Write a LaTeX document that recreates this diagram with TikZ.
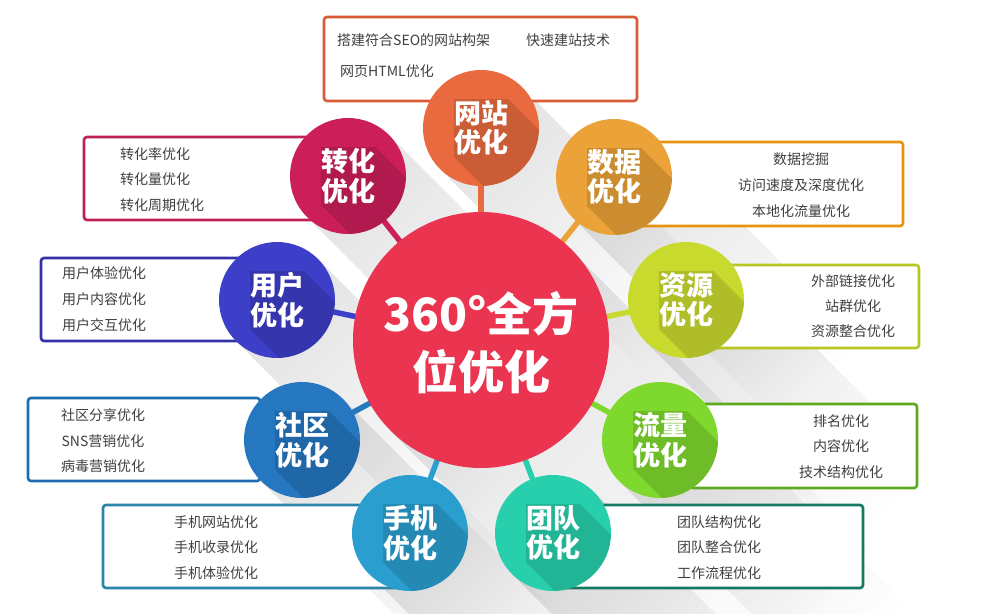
\documentclass[tikz,border=0pt]{standalone}
\usepackage{fontspec}
\setmainfont{Noto Sans CJK SC}
\usetikzlibrary{fadings}
\pgfdeclarelayer{bgL}\pgfdeclarelayer{shadowL}\pgfdeclarelayer{boxL}\pgfdeclarelayer{lineL}
\pgfsetlayers{bgL,shadowL,boxL,lineL,main}
\definecolor{cCenter}{HTML}{EA3450}
\definecolor{cWZ}{HTML}{E96A3F}\definecolor{bWZ}{HTML}{D95C36}
\definecolor{cZH}{HTML}{CC1F5A}\definecolor{bZH}{HTML}{BE2254}
\definecolor{cSJ}{HTML}{EBA238}\definecolor{bSJ}{HTML}{E8920E}
\definecolor{cYH}{HTML}{3E3FC8}\definecolor{bYH}{HTML}{3530A8}
\definecolor{cZY}{HTML}{C9DA2E}\definecolor{bZY}{HTML}{B5C720}
\definecolor{cLL}{HTML}{7ED82E}\definecolor{bLL}{HTML}{5EA820}
\definecolor{cTD}{HTML}{27CFAC}\definecolor{bTD}{HTML}{137A60}
\definecolor{cSHJ}{HTML}{2A9FCF}\definecolor{bSHJ}{HTML}{2A85A8}
\definecolor{cSQ}{HTML}{2577C0}\definecolor{bSQ}{HTML}{1F6DB0}
\definecolor{txtgray}{HTML}{404040}
\tikzfading[name=longfade, left color=transparent!0, right color=transparent!100]
\tikzset{
  circtext/.style={circle, minimum size=116pt, inner sep=0pt, text=white,
    font=\bfseries\fontsize{27}{29.5}\selectfont, align=center},
  centertext/.style={circle, minimum size=256pt, inner sep=0pt, text=white,
    font=\bfseries\fontsize{46}{58}\selectfont, align=center},
  infobox/.style={line width=2.6pt, rounded corners=3pt, fill=white},
  item/.style={text=txtgray, font=\fontsize{14}{16}\selectfont, inner sep=0pt},
  conn/.style={line width=5.5pt, shorten <=-8pt, shorten >=-8pt},
}
\newcommand\longshadow[4]{%
  \begin{pgfonlayer}{shadowL}
  \fill[black, fill opacity=0.11, path fading=longfade, fading angle=-45]
    ({#1+0.7071*#3},{#2-0.7071*#3}) -- ({#1-0.7071*#3},{#2+0.7071*#3})
    -- ++(#4,#4) -- ++({1.4142*#3},{-1.4142*#3}) -- cycle;
  \end{pgfonlayer}}
\newcommand\satellite[5]{%
  \longshadow{#2}{#3}{58}{210}
  \fill[#4] (#2,#3) circle[radius=58pt];
  \begin{scope}
    \clip (#2,#3) circle[radius=58pt];
    \fill[black, fill opacity=0.13] ({#2-27},{#3-29}) -- ({#2+27},{#3-29})
      -- ++(110,110) -- ++(0,58) -- ++(-54,0) -- ({#2-27},{#3+29}) -- cycle;
  \end{scope}
  \node[circtext] (#1) at (#2,#3) {#5};}
\newcommand\infobox[5]{%
  \begin{pgfonlayer}{boxL}
  \draw[infobox, draw=#5] (#1,#2) rectangle (#3,#4);
  \end{pgfonlayer}}
\begin{document}
\begin{tikzpicture}[x=1pt, y=-1pt]
\useasboundingbox (0,0) rectangle (987,613);
\begin{pgfonlayer}{bgL}
\fill[white] (0,0) rectangle (987,613);
\end{pgfonlayer}

% info boxes
\infobox{324}{17}{637}{101}{bWZ}
\infobox{84}{137}{335}{220}{bZH}
\infobox{630}{142}{903}{226}{bSJ}
\infobox{41}{258}{255}{341}{bYH}
\infobox{700}{265}{919}{348}{bZY}
\infobox{28}{398}{260}{481}{bSQ}
\infobox{690}{404}{917}{488}{bLL}
\infobox{103}{505}{410}{588}{bSHJ}
\infobox{560}{505}{863}{588}{bTD}

% center circle
\longshadow{481}{340}{128}{300}
\fill[cCenter] (481,340) circle[radius=128pt];
\node[centertext] (c) at (481,343) {360°全方\\位优化};

% satellites
\satellite{wz}{481}{128}{cWZ}{网站\\优化}
\satellite{sj}{614}{177}{cSJ}{数据\\优化}
\satellite{zy}{686}{300}{cZY}{资源\\优化}
\satellite{ll}{660}{440}{cLL}{流量\\优化}
\satellite{td}{553}{533}{cTD}{团队\\优化}
\satellite{shj}{410}{533}{cSHJ}{手机\\优化}
\satellite{sq}{302}{440}{cSQ}{社区\\优化}
\satellite{yh}{277}{300}{cYH}{用户\\优化}
\satellite{zh}{348}{176}{cZH}{转化\\优化}

% connectors
\begin{pgfonlayer}{lineL}
\draw[conn, cWZ] (c) -- (wz);
\draw[conn, cSJ] (c) -- (sj);
\draw[conn, cZY] (c) -- (zy);
\draw[conn, cLL] (c) -- (ll);
\draw[conn, cTD] (c) -- (td);
\draw[conn, cSHJ] (c) -- (shj);
\draw[conn, cSQ] (c) -- (sq);
\draw[conn, cYH] (c) -- (yh);
\draw[conn, cZH] (c) -- (zh);
\end{pgfonlayer}

% box texts
\node[item, anchor=west] (wz1) at (337,40) {搭建符合SEO的网站构架};
\node[item, anchor=west] (wz2) at (526,40) {快速建站技术};
\node[item, anchor=west] (wz3) at (340,71) {网页HTML优化};

\node[item, anchor=west] (zh1) at (120,154) {转化率优化};
\node[item, anchor=west] (zh2) at (120,179) {转化量优化};
\node[item, anchor=west] (zh3) at (120,205) {转化周期优化};

\node[item] (sj1) at (801,159) {数据挖掘};
\node[item] (sj2) at (801,185) {访问速度及深度优化};
\node[item] (sj3) at (801,211) {本地化流量优化};

\node[item, anchor=west] (yh1) at (62,273) {用户体验优化};
\node[item, anchor=west] (yh2) at (62,299) {用户内容优化};
\node[item, anchor=west] (yh3) at (62,325) {用户交互优化};

\node[item] (zy1) at (853,281) {外部链接优化};
\node[item] (zy2) at (853,306) {站群优化};
\node[item] (zy3) at (853,331) {资源整合优化};

\node[item] (sq1) at (103,415) {社区分享优化};
\node[item] (sq2) at (103,441) {SNS营销优化};
\node[item] (sq3) at (103,466) {病毒营销优化};

\node[item] (ll1) at (841,421) {排名优化};
\node[item] (ll2) at (841,446) {内容优化};
\node[item] (ll3) at (841,472) {技术结构优化};

\node[item] (shj1) at (216,522) {手机网站优化};
\node[item] (shj2) at (216,547) {手机收录优化};
\node[item] (shj3) at (216,573) {手机体验优化};

\node[item] (td1) at (719,522) {团队结构优化};
\node[item] (td2) at (719,547) {团队整合优化};
\node[item] (td3) at (719,573) {工作流程优化};
\end{tikzpicture}
\end{document}
